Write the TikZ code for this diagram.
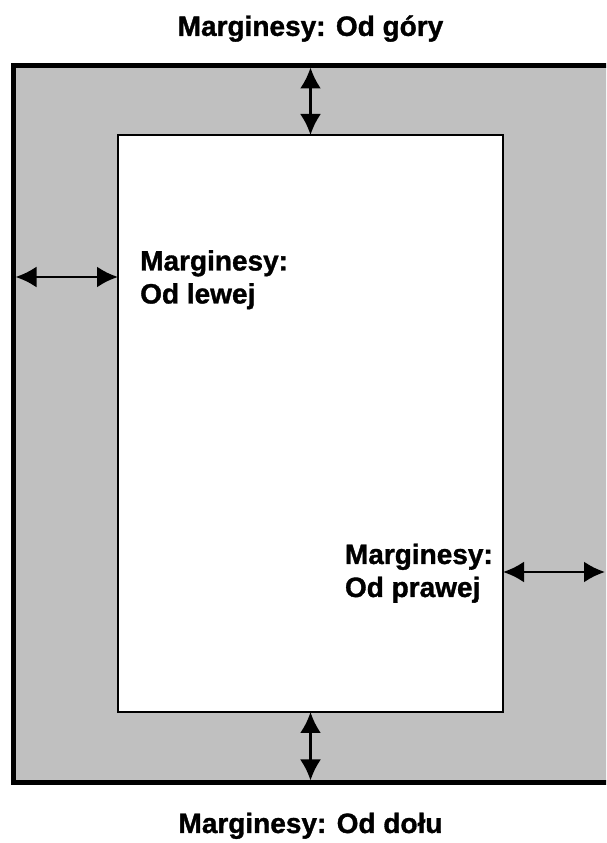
\documentclass[tikz,border=0pt]{standalone}
\usepackage{fontspec}
\setmainfont{Liberation Sans}[BoldFeatures={FakeBold=1.2}]
\usetikzlibrary{positioning,arrows.meta}
\definecolor{marggray}{RGB}{192,192,192}
\tikzstyle{sheetbox} = [rectangle, draw=black, fill=marggray, line width=5pt, outer sep=0pt, inner sep=0pt, minimum width=606.5pt, minimum height=717pt]
\tikzstyle{pagebox} = [rectangle, draw=black, fill=white, line width=1.5pt, outer sep=0pt, inner sep=0pt, minimum width=385pt, minimum height=577pt]
\tikzstyle{marglabel} = [inner sep=0pt, align=left, font=\bfseries\fontsize{28}{33}\selectfont]
\tikzstyle{margarrow} = [line width=2.7pt, {Latex[length=21pt,width=21pt]}-{Latex[length=21pt,width=21pt]}]

\begin{document}
\begin{tikzpicture}[x=1pt,y=1pt]
			\useasboundingbox (0,0) rectangle (606,843);
			\clip (0,0) rectangle (606,843);
			\node (sheet) [sheetbox] at (316.75,419) {};
			\node (page) [pagebox] at (310.5,419.5) {};
			\node (gora) [marglabel,above=93pt of page.north] {Marginesy: Od góry};
			\node (dol) [marglabel,below=100.5pt of page.south] {Marginesy: Od dołu};
			\node (lewa) [marglabel,below right=115pt and 22pt of page.north west] {Marginesy:\\Od lewej};
			\node (prawa) [marglabel,above left=109pt and 10pt of page.south east] {Marginesy:\\Od prawej};
			\coordinate (lw) at (13.5,566);
			\coordinate (pr) at (606,271);
			
			\draw [margarrow,shorten >=2pt] (page.north) -- (page.north |- sheet.north);
			\draw [margarrow,shorten >=2pt] (page.south) -- (page.south |- sheet.south);
			\draw [margarrow,shorten <=2pt] (lw) -- (lw -| page.west);
			\draw [margarrow,shorten >=1pt] (pr -| page.east) -- (pr);
\end{tikzpicture}
\end{document}
